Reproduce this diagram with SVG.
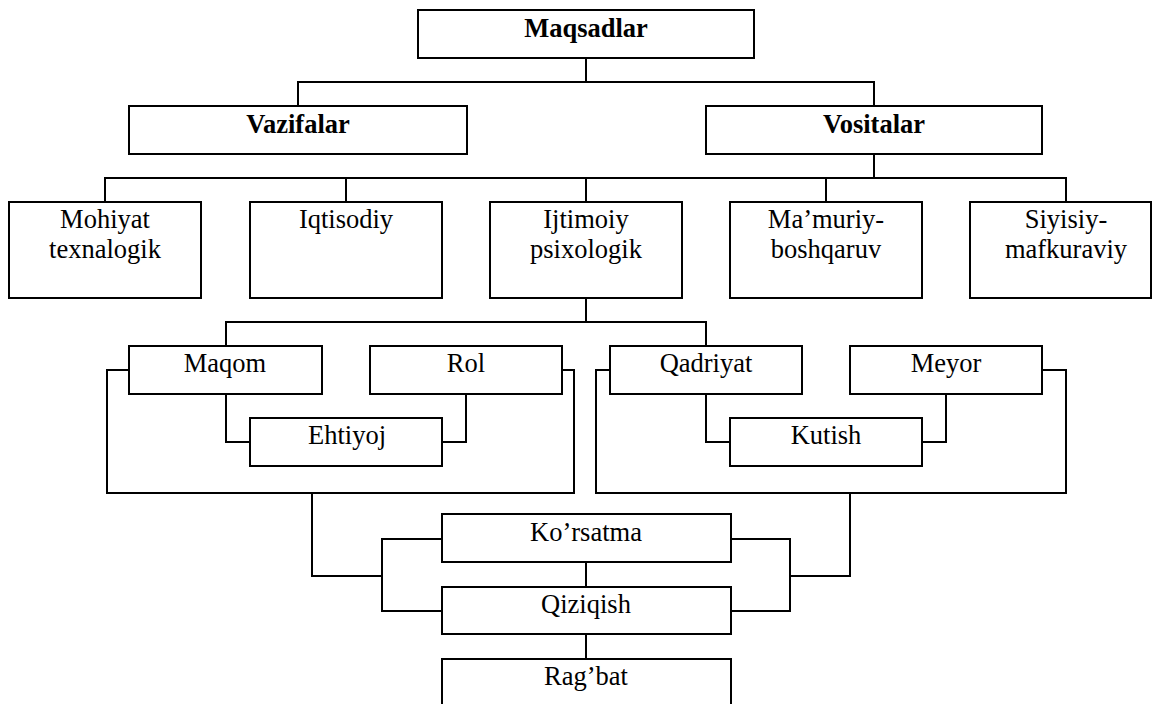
<svg xmlns="http://www.w3.org/2000/svg" width="1153" height="704" viewBox="0 0 1153 704">
<style>
.box{fill:#fff;stroke:#000;stroke-width:2}
.t{font-family:"Liberation Serif","Times New Roman",serif;font-size:26.5px;fill:#000;text-anchor:middle}
.b{font-weight:bold}
.c{fill:none;stroke:#000;stroke-width:2}
</style>
<rect width="1153" height="704" fill="#fff"/>
<g id="connectors" class="c">
<path d="M586,58 V82 M298,106 V82 H874 V106"/>
<path d="M874,154 V178 M105,202 V178 H1066 V202 M346,178 V202 M586,178 V202 M826,178 V202"/>
<path d="M586,298 V322 M226,346 V322 H706 V346"/>
<path d="M226,394 V442 H250 M466,394 V442 H442"/>
<path d="M706,394 V442 H730 M946,394 V442 H922"/>
<path d="M129,370 H107 V493 H574 V370 H562"/>
<path d="M610,370 H596 V493 H1066 V370 H1042"/>
<path d="M312,493 V576 H382 M442,539 H382 V611 H442"/>
<path d="M850,493 V576 H790 M731,539 H790 V611 H731"/>
<path d="M586,562 V587 M586,634 V659"/>
</g>
<g id="maqsadlar"><rect class="box" x="418" y="10" width="336" height="48"/><text class="t b" x="586" y="37">Maqsadlar</text></g>
<g id="vazifalar"><rect class="box" x="129" y="106" width="338" height="48"/><text class="t b" x="298" y="133">Vazifalar</text></g>
<g id="vositalar"><rect class="box" x="706" y="106" width="336" height="48"/><text class="t b" x="874" y="133">Vositalar</text></g>
<g id="mohiyat"><rect class="box" x="9" y="202" width="192" height="96"/><text class="t" x="105" y="228">Mohiyat</text><text class="t" x="105" y="258">texnalogik</text></g>
<g id="iqtisodiy"><rect class="box" x="250" y="202" width="192" height="96"/><text class="t" x="346" y="228">Iqtisodiy</text></g>
<g id="ijtimoiy"><rect class="box" x="490" y="202" width="192" height="96"/><text class="t" x="586" y="228">Ijtimoiy</text><text class="t" x="586" y="258">psixologik</text></g>
<g id="mamuriy"><rect class="box" x="730" y="202" width="192" height="96"/><text class="t" x="826" y="228">Ma’muriy-</text><text class="t" x="826" y="258">boshqaruv</text></g>
<g id="siyisiy"><rect class="box" x="970" y="202" width="181" height="96"/><text class="t" x="1066" y="228">Siyisiy-</text><text class="t" x="1066" y="258">mafkuraviy</text></g>
<g id="maqom"><rect class="box" x="129" y="346" width="193" height="48"/><text class="t" x="225" y="372">Maqom</text></g>
<g id="rol"><rect class="box" x="370" y="346" width="192" height="48"/><text class="t" x="466" y="372">Rol</text></g>
<g id="ehtiyoj"><rect class="box" x="250" y="418" width="192" height="48"/><text class="t" x="347" y="444">Ehtiyoj</text></g>
<g id="qadriyat"><rect class="box" x="610" y="346" width="192" height="48"/><text class="t" x="706" y="372">Qadriyat</text></g>
<g id="meyor"><rect class="box" x="850" y="346" width="192" height="48"/><text class="t" x="946" y="372">Meyor</text></g>
<g id="kutish"><rect class="box" x="730" y="418" width="192" height="48"/><text class="t" x="826" y="444">Kutish</text></g>
<g id="korsatma"><rect class="box" x="442" y="514" width="289" height="48"/><text class="t" x="586" y="541">Ko’rsatma</text></g>
<g id="qiziqish"><rect class="box" x="442" y="587" width="289" height="47"/><text class="t" x="586" y="613">Qiziqish</text></g>
<g id="ragbat"><rect class="box" x="442" y="659" width="289" height="60"/><text class="t" x="586" y="685">Rag’bat</text></g>
</svg>
